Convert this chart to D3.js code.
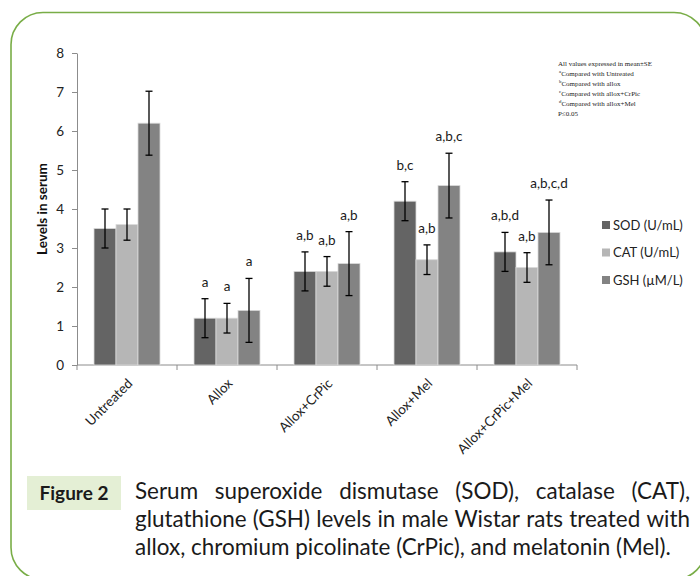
<!DOCTYPE html>
<html>
<head>
<meta charset="utf-8">
<script src="https://cdn.jsdelivr.net/npm/d3@7"></script>
<style>
  html, body { margin: 0; padding: 0; background: #fff; }
  svg { display: block; }
</style>
</head>
<body>
<svg id="chart" width="700" height="576"></svg>
<script>
// ---- data ----
const categories = ["Untreated", "Allox", "Allox+CrPic", "Allox+Mel", "Allox+CrPic+Mel"];
const seriesNames = ["SOD (U/mL)", "CAT (U/mL)", "GSH (\u00b5M/L)"];
const sodValues = [3.5, 1.2, 2.4, 4.2, 2.9];
const catValues = [3.6, 1.2, 2.4, 2.7, 2.5];
const gshValues = [6.2, 1.4, 2.6, 4.6, 3.4];
const sodErrors = [0.5, 0.5, 0.5, 0.5, 0.5];
const catErrors = [0.4, 0.38, 0.38, 0.38, 0.38];
const gshErrors = [0.82, 0.82, 0.82, 0.83, 0.83];
const sodSig = ["", "a", "a,b", "b,c", "a,b,d"];
const catSig = ["", "a", "a,b", "a,b", "a,b"];
const gshSig = ["", "a", "a,b", "a,b,c", "a,b,c,d"];
const yTicks = [0, 1, 2, 3, 4, 5, 6, 7, 8];
const yLabel = "Levels in serum";
const footnotes = [
  ["", "All values expressed in mean\u00b1SE"],
  ["a", "Compared with Untreated"],
  ["b", "Compared with allox"],
  ["c", "Compared with allox+CrPic"],
  ["d", "Compared with allox+Mel"],
  ["", " P\u22640.05"]
];
const figureLabel = "Figure 2";
const captionLines = [
  "Serum superoxide dismutase (SOD), catalase (CAT),",
  "glutathione (GSH) levels in male Wistar rats treated with",
  "allox, chromium picolinate (CrPic), and melatonin (Mel)."
];

// ---- build table ----
const valuesBySeries = [sodValues, catValues, gshValues];
const errorsBySeries = [sodErrors, catErrors, gshErrors];
const sigBySeries = [sodSig, catSig, gshSig];
const colors = ["#646464", "#b6b6b6", "#838383"];
const table = [];
categories.forEach((c, i) => {
  seriesNames.forEach((s, j) => {
    table.push({cat: c, series: s, si: j, v: valuesBySeries[j][i], e: errorsBySeries[j][i], sig: sigBySeries[j][i]});
  });
});

const FONT = "Lato, 'Open Sans', sans-serif";
const svg = d3.select("#chart");

// frame
svg.append("rect")
  .attr("x", 11).attr("y", 12.5).attr("width", 695).attr("height", 567)
  .attr("rx", 32).attr("ry", 32)
  .attr("fill", "none").attr("stroke", "#79ad47").attr("stroke-width", 1.6);

// scales
const x = d3.scaleBand().domain(categories).range([77, 577]).padding(0);
const xs = d3.scaleBand().domain(seriesNames).range([17, 83]).padding(0);
const y = d3.scaleLinear().domain([0, 8]).range([365, 53]);

// y axis
const yAxis = svg.append("g").attr("transform", "translate(77,0)")
  .call(d3.axisLeft(y).tickValues(yTicks).tickSize(5).tickSizeOuter(0).tickPadding(8));
yAxis.select(".domain").attr("stroke", "#8c8c8c");
yAxis.selectAll(".tick line").attr("stroke", "#8c8c8c");
yAxis.selectAll(".tick text").attr("font-family", FONT).attr("font-size", 13.5).attr("fill", "#222");

// x axis line and ticks at band boundaries
const xa = svg.append("g");
xa.append("line").attr("x1", x.range()[0]).attr("x2", x.range()[1])
  .attr("y1", y(0)).attr("y2", y(0)).attr("stroke", "#8c8c8c");
const bounds = categories.map(c => x(c)).concat([x.range()[1]]);
xa.selectAll(".xt").data(bounds).enter().append("line")
  .attr("x1", d => d).attr("x2", d => d)
  .attr("y1", y(0)).attr("y2", y(0) + 5).attr("stroke", "#8c8c8c");
xa.selectAll(".xl").data(categories).enter().append("text")
  .attr("transform", d => `translate(${x(d) + x.bandwidth() / 2 + 3},${y(0) + 16}) rotate(-45)`)
  .attr("text-anchor", "end").attr("dy", "0.35em")
  .attr("font-family", FONT).attr("font-size", 13.5).attr("fill", "#222")
  .text(d => d);

// y label
svg.append("text")
  .attr("transform", `translate(47,${(y(0) + y(8)) / 2}) rotate(-90)`)
  .attr("text-anchor", "middle")
  .attr("font-family", FONT).attr("font-size", 13.5).attr("font-weight", "bold").attr("fill", "#111")
  .text(yLabel);

// bars
svg.append("g").selectAll("rect").data(table).enter().append("rect")
  .attr("x", d => x(d.cat) + xs(d.series))
  .attr("y", d => y(d.v))
  .attr("width", xs.bandwidth())
  .attr("height", d => y(0) - y(d.v))
  .attr("fill", d => colors[d.si])
  .attr("stroke", "#d9d9d9").attr("stroke-width", 0.8);

// error bars
const eb = svg.append("g").attr("stroke", "#000").attr("stroke-width", 1.3);
table.forEach(d => {
  const cx = x(d.cat) + xs(d.series) + xs.bandwidth() / 2;
  const t = y(d.v + d.e), b = y(d.v - d.e);
  eb.append("line").attr("x1", cx).attr("x2", cx).attr("y1", t).attr("y2", b);
  eb.append("line").attr("x1", cx - 3.5).attr("x2", cx + 3.5).attr("y1", t).attr("y2", t);
  eb.append("line").attr("x1", cx - 3.5).attr("x2", cx + 3.5).attr("y1", b).attr("y2", b);
});

// significance labels
svg.append("g").selectAll("text").data(table.filter(d => d.sig)).enter().append("text")
  .attr("x", d => x(d.cat) + xs(d.series) + xs.bandwidth() / 2)
  .attr("y", d => y(d.v + d.e) - 12)
  .attr("text-anchor", "middle")
  .attr("font-family", FONT).attr("font-size", 13.5).attr("fill", "#1a1a1a")
  .text(d => d.sig);

// legend
const lg = svg.append("g");
seriesNames.forEach((s, j) => {
  const cy = 225 + j * 27.5;
  lg.append("rect").attr("x", 602).attr("y", cy - 4).attr("width", 8).attr("height", 8).attr("fill", colors[j]);
  lg.append("text").attr("x", 613).attr("y", cy).attr("dy", "0.35em")
    .attr("font-family", FONT).attr("font-size", 13).attr("fill", "#222").text(s);
});

// footnotes
const fn = svg.append("g").attr("font-family", "'Liberation Serif', 'DejaVu Serif', serif").attr("fill", "#222");
footnotes.forEach((f, i) => {
  const t = fn.append("text").attr("x", f[0] ? 559 : 558).attr("y", 66 + i * 9.9).attr("font-size", 7);
  if (f[0]) {
    t.append("tspan").attr("font-size", 4.8).attr("dy", -2.5).text(f[0]);
    t.append("tspan").attr("dy", 2.5).text(f[1]);
  } else {
    t.append("tspan").text(f[1]);
  }
});

// figure label box
svg.append("rect").attr("x", 27).attr("y", 476).attr("width", 94).attr("height", 34).attr("fill", "#e4efd5");
svg.append("text").attr("x", 74).attr("y", 493).attr("dy", "0.35em").attr("text-anchor", "middle")
  .attr("font-family", FONT).attr("font-size", 19).attr("font-weight", "bold").attr("fill", "#1a1a1a")
  .text(figureLabel);

// caption: fit font so last line spans ~536px, justify first lines to 555px
const capX = 135, capW = 555, lastW = 536;
const probe = svg.append("text").attr("font-family", FONT).attr("font-size", 20).text(captionLines[2]);
const fs = 20 * lastW / probe.node().getComputedTextLength();
probe.remove();
const cap = svg.append("g").attr("font-family", FONT).attr("font-size", fs).attr("fill", "#1a1a1a");
captionLines.forEach((line, i) => {
  const by = 491 + i * 28;
  if (i === captionLines.length - 1) {
    cap.append("text").attr("x", capX).attr("y", by).attr("dy", "0.35em").text(line);
    return;
  }
  const words = line.split(" ");
  const nodes = words.map(w => cap.append("text").attr("y", by).attr("dy", "0.35em").text(w));
  const widths = nodes.map(n => n.node().getComputedTextLength());
  const gap = (capW - d3.sum(widths)) / (words.length - 1);
  let cx = capX;
  nodes.forEach((n, k) => { n.attr("x", cx); cx += widths[k] + gap; });
});
</script>
</body>
</html>
